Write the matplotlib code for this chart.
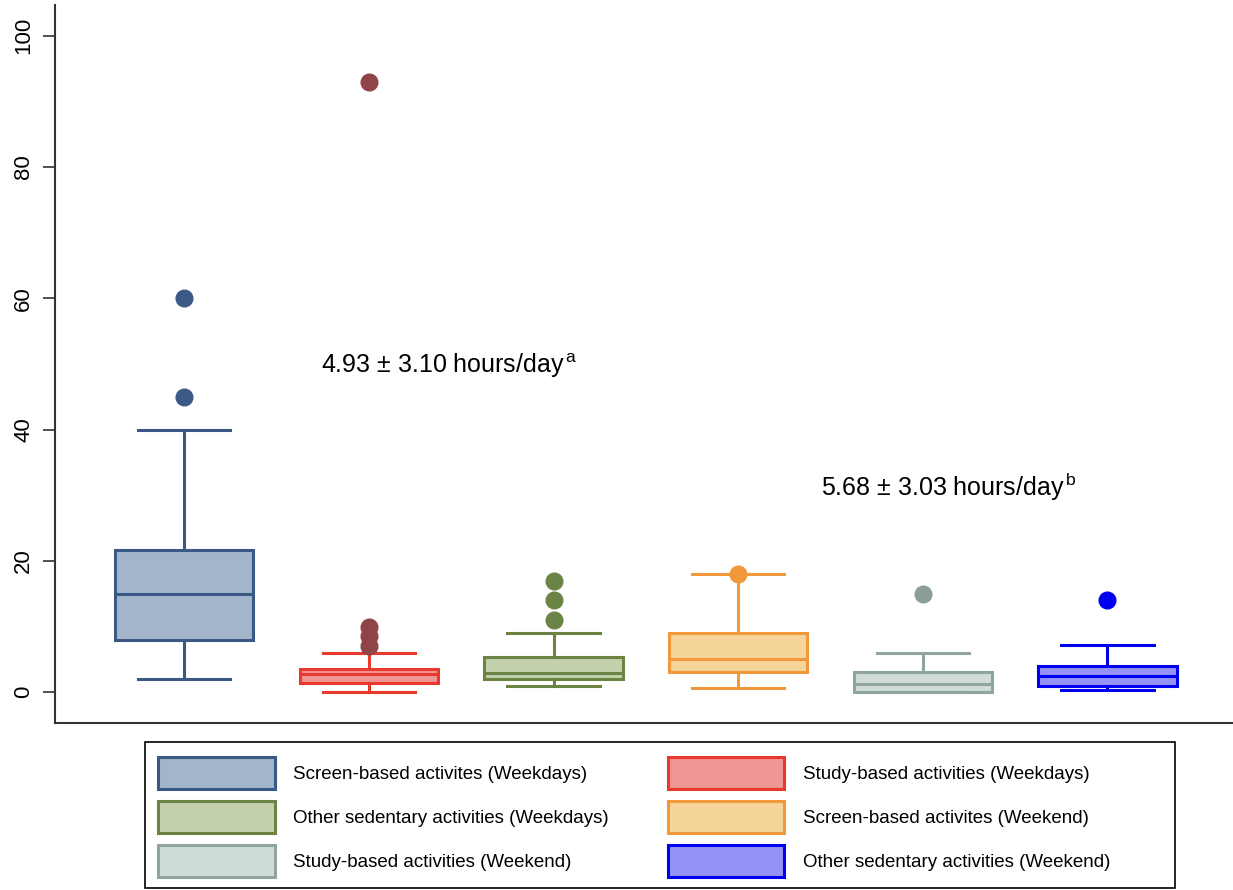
import matplotlib
matplotlib.use("Agg")
import matplotlib.pyplot as plt
from matplotlib.patches import Patch, Rectangle

plt.rcParams['font.family'] = ['Liberation Sans', 'DejaVu Sans']
plt.rcParams['mathtext.fontset'] = 'custom'
plt.rcParams['mathtext.rm'] = 'Liberation Sans'
plt.rcParams['mathtext.it'] = 'Liberation Sans:italic'

# ---- data ----
labels = ["Screen-based activites (Weekdays)", "Study-based activities (Weekdays)",
          "Other sedentary activities (Weekdays)", "Screen-based activites (Weekend)",
          "Study-based activities (Weekend)", "Other sedentary activities (Weekend)"]
medians = [15, 2.8, 2.9, 5, 1.3, 2.4]
q1s = [8, 1.4, 2, 3, 0, 1]
q3s = [21.6, 3.5, 5.3, 9, 3, 4]
whislos = [2, 0, 1, 0.6, 0, 0.3]
whishis = [40, 6, 9, 18, 6, 7.2]
fliers = [[45, 60], [7, 8.5, 10, 93], [11, 14, 17], [18], [15], [14]]

face_colors = ["#a3b5cb", "#f09795", "#c3d1ad", "#f6d59a", "#cfdcd8", "#9592f5"]
edge_colors = ["#3a5a85", "#e8392c", "#6c8443", "#f0983a", "#8fa59e", "#0000f0"]
flier_colors = ["#3a5a85", "#8f4447", "#6b8445", "#f0983a", "#8a9f98", "#0000f0"]

annot1 = "4.93 ± 3.10 hours/day$^{\\,\\mathrm{a}}$"
annot2 = "5.68 ± 3.03 hours/day$^{\\,\\mathrm{b}}$"

fig = plt.figure(figsize=(12.33, 8.9), dpi=100)
ax = fig.add_axes([0.0446, 0.1876, 0.9554, 0.8068])

for i in range(len(labels)):
    st = dict(med=medians[i], q1=q1s[i], q3=q3s[i], whislo=whislos[i],
              whishi=whishis[i], fliers=fliers[i])
    ec = edge_colors[i]
    ax.bxp([st], positions=[i + 1], widths=0.75, capwidths=0.5, patch_artist=True,
           boxprops=dict(facecolor=face_colors[i], edgecolor=ec, linewidth=2.2),
           medianprops=dict(color=ec, linewidth=2.2),
           whiskerprops=dict(color=ec, linewidth=2.2),
           capprops=dict(color=ec, linewidth=2.2),
           flierprops=dict(marker='o', markersize=12, markerfacecolor=flier_colors[i],
                           markeredgecolor=flier_colors[i]))

ax.set_xlim(0.30, 6.68)
ax.set_ylim(-4.7, 104.7)
ax.set_xticks([])
ax.set_yticks([0, 20, 40, 60, 80, 100])
ax.tick_params(axis='y', length=9, width=1.2, pad=6, labelsize=16, labelrotation=90,
               color='#333333')
for lbl in ax.get_yticklabels():
    lbl.set_va('center')
for s in ['top', 'right']:
    ax.spines[s].set_visible(False)
for s in ['left', 'bottom']:
    ax.spines[s].set_linewidth(1.5)
    ax.spines[s].set_color('#333333')

ax.text(1.74, 49.8, annot1, fontsize=18, ha='left', va='center')
ax.text(4.45, 31.3, annot2, fontsize=18, ha='left', va='center')

handles = [Patch(facecolor=face_colors[i], edgecolor=edge_colors[i], linewidth=2.2)
           for i in range(len(labels))]
order = [0, 2, 4, 1, 3, 5]
leg = fig.legend([handles[k] for k in order], [labels[k] for k in order],
                 loc='center left', bbox_to_anchor=(149 / 1233, 1 - 817 / 890),
                 ncol=2, fontsize=13.5, frameon=False,
                 handlelength=6.2, handleheight=2.25, handletextpad=1.0,
                 columnspacing=3.15, labelspacing=0.64, borderpad=0.0)
fig.patches.append(Rectangle((145 / 1233, 1 - 888 / 890), 1030 / 1233, 146 / 890,
                             transform=fig.transFigure, fill=False,
                             edgecolor='black', linewidth=1.2))

fig.savefig("out.png", dpi=100)
